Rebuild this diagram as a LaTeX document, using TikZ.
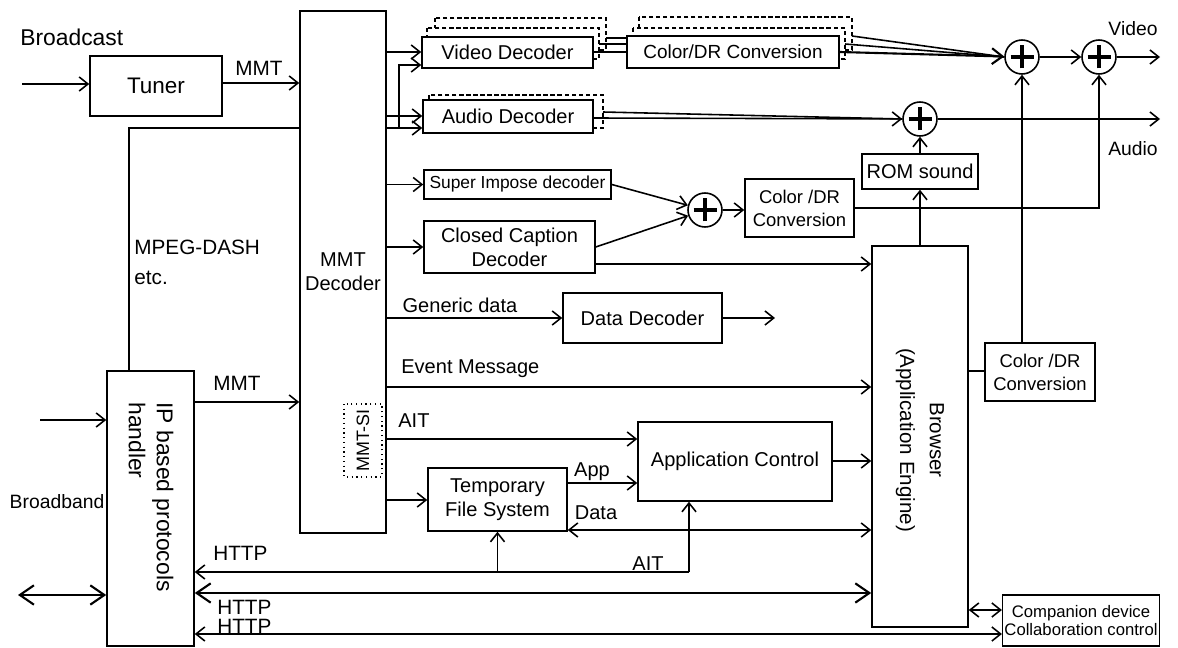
\documentclass[tikz,border=0pt]{standalone}
\usepackage{fontspec}
\setmainfont{Liberation Sans}
\usetikzlibrary{arrows.meta}
\tikzset{
  box/.style={draw, line width=0.9pt, fill=white, inner sep=1pt, align=center},
  copybox/.style={draw, line width=0.7pt, dash pattern=on 2.5pt off 1.5pt, fill=white},
  ln/.style={line width=0.9pt},
  arr/.style={line width=0.9pt, -{Straight Barb[length=5pt,width=8pt]}},
  darr/.style={line width=0.9pt, {Straight Barb[length=5pt,width=8pt]}-{Straight Barb[length=5pt,width=8pt]}},
  bigdarr/.style={line width=1.2pt, {Straight Barb[length=8pt,width=11pt]}-{Straight Barb[length=8pt,width=11pt]}},
  bigarr/.style={line width=1.2pt, -{Straight Barb[length=6pt,width=9pt]}},
  plus/.style={circle, draw, line width=0.9pt, fill=white, minimum size=0.68cm, inner sep=0pt,
    path picture={
      \draw[line width=2pt] ([xshift=-0.23cm]path picture bounding box.center) -- ([xshift=0.23cm]path picture bounding box.center);
      \draw[line width=2pt] ([yshift=-0.23cm]path picture bounding box.center) -- ([yshift=0.23cm]path picture bounding box.center);
    }},
  lbl/.style={inner sep=0pt},
}
\begin{document}
\begin{tikzpicture}[x=0.02cm, y=-0.02cm, every node/.style={font=\fontsize{11.4}{13.5}\selectfont}]
\fill[white] (0,0) rectangle (1178,648);
\useasboundingbox (0,0) rectangle (1178,648);

% stacked copies
\draw[copybox] (435,18) rectangle (606,50);
\draw[copybox] (427,28) rectangle (599,59);
\draw[copybox] (639,17) rectangle (852,50);
\draw[copybox] (633,28) rectangle (845,59);
\draw[copybox] (429,95) rectangle (603,128);

% boxes
\node[box, minimum width=2.64cm, minimum height=1.2cm, font=\fontsize{12.8}{15}\selectfont] (tuner) at (156,86) {Tuner};
\node[box, minimum width=1.72cm, minimum height=10.44cm] (mmtdec) at (343,272) {MMT\\Decoder};
\node[box, minimum width=1.74cm, minimum height=5.5cm] (iph) at (150.5,508.5) {};
\node[box, minimum width=3.42cm, minimum height=0.62cm] (vd) at (507.5,52.5) {Video Decoder};
\node[box, minimum width=4.24cm, minimum height=0.64cm, font=\fontsize{10.8}{13}\selectfont] (cdr1) at (733,52) {Color/DR Conversion};
\node[box, minimum width=3.40cm, minimum height=0.66cm] (ad) at (508,116.5) {Audio Decoder};
\node[box, minimum width=2.32cm, minimum height=0.70cm] (rom) at (920,171.5) {ROM sound};
\node[box, minimum width=1.92cm, minimum height=7.62cm] (browser) at (920,436.5) {};
\node[box, minimum width=2.18cm, minimum height=1.16cm, font=\fontsize{10.5}{13}\selectfont] (cdr2) at (799.5,208) {Color /DR\\Conversion};
\node[box, minimum width=2.20cm, minimum height=1.16cm, font=\fontsize{10.5}{13}\selectfont] (cdr3) at (1040,372) {Color /DR\\Conversion};
\node[box, minimum width=3.74cm, minimum height=0.58cm, font=\fontsize{9.9}{12}\selectfont] (sid) at (517.5,184.5) {Super Impose decoder};
\node[box, minimum width=3.42cm, minimum height=1.04cm] (ccd) at (509.5,247) {Closed Caption\\Decoder};
\node[box, minimum width=3.18cm, minimum height=1.00cm] (dd) at (642.5,318) {Data Decoder};
\node[box, minimum width=3.88cm, minimum height=1.58cm] (appc) at (735,461.5) {Application Control};
\node[box, minimum width=2.78cm, minimum height=1.26cm] (tfs) at (497.5,499.5) {Temporary\\File System};
\node[box, minimum width=3.12cm, minimum height=1.02cm, font=\fontsize{9.5}{10.5}\selectfont] (comp) at (1081,620.5) {Companion device\\Collaboration control};
\node[draw, dotted, line width=0.7pt, rotate=90, minimum width=1.46cm, minimum height=0.76cm, inner sep=0pt, font=\fontsize{10.2}{12}\selectfont] (mmtsi) at (363,440.5) {MMT-SI};

% rotated texts
\node[lbl, rotate=-90, align=left, font=\fontsize{13}{16}\selectfont] (tiph) at (151,497) {IP based protocols\\handler};
\node[lbl, rotate=-90, align=center, font=\fontsize{11.7}{17}\selectfont] (tbrowser) at (920,440) {Browser\\(Application Engine)};

% adders
\node[plus] (p1) at (1022,57) {};
\node[plus] (p2) at (1099,57) {};
\node[plus] (p3) at (920,119) {};
\node[plus] (p4) at (705,210) {};

% free ends and junctions
\coordinate (bcin) at (22,84);
\coordinate (bbin) at (40,420);
\coordinate (bbio) at (18,595);
\coordinate (vout) at (1160,57);
\coordinate (aout) at (1160,119);
\coordinate (ddout) at (775,318);
\coordinate (j1) at (399,128);
\coordinate (jd) at (129,128);
\coordinate (j2) at (689,572);
\coordinate (j3) at (497.5,572);

% labels
\node[lbl, anchor=west, font=\fontsize{13}{15}\selectfont] (lbroadcast) at (20,37) {Broadcast};
\node[lbl, font=\fontsize{11.8}{14}\selectfont] (lmmt1) at (259,68) {MMT};
\node[lbl, anchor=west, align=left, font=\fontsize{11.8}{17}\selectfont] (ldash) at (134,262) {MPEG-DASH\\etc.};
\node[lbl, font=\fontsize{11.8}{14}\selectfont] (lmmt2) at (237,383) {MMT};
\node[lbl, font=\fontsize{11}{13}\selectfont] (lbb) at (57,502) {Broadband};
\node[lbl, font=\fontsize{11}{13}\selectfont] (lvideo) at (1133,29) {Video};
\node[lbl, font=\fontsize{11}{13}\selectfont] (laudio) at (1133,149) {Audio};
\node[lbl] (lgen) at (460,305) {Generic data};
\node[lbl, anchor=west] (levent) at (401,369) {Event Message};
\node[lbl, anchor=west] (lait1) at (398,421) {AIT};
\node[lbl] (lapp) at (592,472) {App};
\node[lbl] (ldata) at (596,513) {Data};
\node[lbl] (lait2) at (648,564) {AIT};
\node[lbl, anchor=west, font=\fontsize{11.8}{14}\selectfont] (lhttp1) at (213,553) {HTTP};
\node[lbl, anchor=west, font=\fontsize{11.8}{14}\selectfont] (lhttp2) at (217,607) {HTTP};
\node[lbl, anchor=west, font=\fontsize{11.8}{14}\selectfont] (lhttp3) at (217,626) {HTTP};

% connectors: inputs
\draw[arr] (bcin) -- (tuner.west |- bcin);
\draw[arr] (tuner.east |- 0,83) -- (mmtdec.west |- 0,83);
\draw[ln] (iph.north -| jd) -- (jd) -- (mmtdec.west |- jd);
\draw[arr] (bbin) -- (iph.west |- bbin);
\draw[bigdarr] (bbio) -- (iph.west |- bbio);
\draw[arr] (iph.east |- 0,402) -- (mmtdec.west |- 0,402);

% MMT decoder outputs
\draw[arr] (mmtdec.east |- 0,52) -- (vd.west |- 0,52);
\draw[arr] (mmtdec.east |- 0,116) -- (ad.west |- 0,116);
\draw[arr] (mmtdec.east |- j1) -- (ad.west |- j1);
\draw[arr] (j1) -- (399,65) -- (vd.west |- 0,65);
\draw[arr] (mmtdec.east |- sid) -- (sid.west);
\draw[arr] (mmtdec.east |- ccd) -- (ccd.west);
\draw[arr] (mmtdec.east |- 0,318) -- (dd.west |- 0,318);
\draw[arr] (dd.east) -- (ddout);
\draw[arr] (mmtdec.east |- 0,387) -- (browser.west |- 0,387);
\draw[arr] (mmtdec.east |- 0,439) -- (appc.west |- 0,439);
\draw[arr] (mmtdec.east |- 0,500) -- (tfs.west |- 0,500);

% video chain
\draw[ln] (vd.east |- 0,52) -- (cdr1.west |- 0,52);
\draw[ln] (599,44) -- (cdr1.west |- 0,44);
\draw[ln] (606,38) -- (cdr1.west |- 0,38);
\draw[ln] (852,36) -- (p1.west);
\draw[ln] (845,44) -- (p1.west);
\draw[bigarr] (cdr1.east |- 0,52) -- (p1);
\draw[arr] (p1) -- (p2);
\draw[arr] (p2) -- (vout);

% audio chain
\draw[ln] (603,112) -- (p3.west);
\draw[arr] (ad.east |- 0,118) -- (p3);
\draw[arr] (p3) -- (aout);
\draw[arr] (rom.north) -- (p3.south);
\draw[arr] (browser.north) -- (rom.south);

% captions
\draw[arr] (sid.east) -- (p4);
\draw[arr] (ccd.east |- 0,247) -- (p4);
\draw[arr] (p4) -- (cdr2.west |- p4);
\draw[arr] (cdr2.east |- 0,208) -- (p2 |- 0,208) -- (p2.south);
\draw[arr] (ccd.east |- 0,264) -- (browser.west |- 0,264);
\draw[ln] (browser.east |- 0,371) -- (cdr3.west |- 0,371);
\draw[arr] (cdr3.north -| p1) -- (p1.south);

% application control / file system
\draw[arr] (tfs.east |- 0,483) -- (appc.west |- 0,483);
\draw[arr] (appc.east |- 0,461) -- (browser.west |- 0,461);
\draw[darr] (tfs.east |- 0,530) -- (browser.west |- 0,530);
\draw[arr] (j2) -- (iph.east |- j2);
\draw[arr] (j2) -- (appc.south -| j2);
\draw[arr] (j3) -- (tfs.south);
\draw[bigdarr] (iph.east |- 0,593) -- (browser.west |- 0,593);
\draw[darr] (iph.east |- 0,634) -- (comp.west |- 0,634);
\draw[darr] (browser.east |- 0,610) -- (comp.west |- 0,610);
\end{tikzpicture}
\end{document}
